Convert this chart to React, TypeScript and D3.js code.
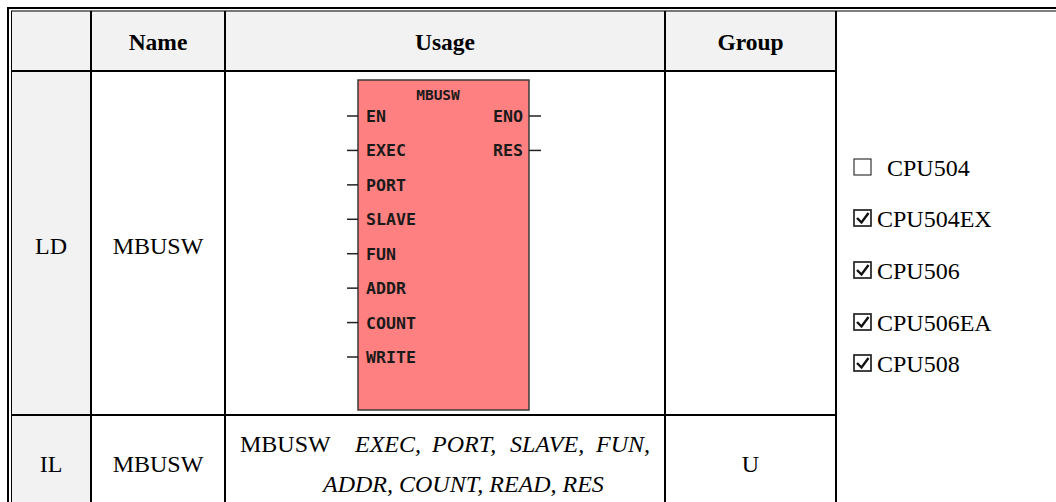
import { useEffect } from 'react';
import * as d3 from 'd3';

// table content
const headers = ['', 'Name', 'Usage', 'Group'];
const languages = ['LD', 'IL'];
const names = ['MBUSW', 'MBUSW'];
const groups = ['', 'U'];

// LD function block
const blockTitle = 'MBUSW';
const inputPins = ['EN', 'EXEC', 'PORT', 'SLAVE', 'FUN', 'ADDR', 'COUNT', 'WRITE'];
const outputPins = ['ENO', 'RES'];

// IL instruction
const ilInstruction = 'MBUSW';
const ilOperandsLine1 = ['EXEC,', 'PORT,', 'SLAVE,', 'FUN,'];
const ilOperandsLine2 = 'ADDR, COUNT, READ, RES';

// supported CPUs
const cpuModels = ['CPU504', 'CPU504EX', 'CPU506', 'CPU506EA', 'CPU508'];
const cpuSupported = [false, true, true, true, true];

// layout
const W = 1056;
const H = 502;
const colEdges = [11, 91, 225, 665, 836];
const headerBottom = 71;
const rowBottom = 415;
const rowBaselines = [254, 472];
const operandX = [355, 432, 510, 596];
const cpuBaselines = [176, 227, 279, 331, 372];
const serif = '"Liberation Serif", "Times New Roman", serif';
const mono = '"DejaVu Sans Mono", monospace';

export default function App() {
  useEffect(() => {
    document.body.style.margin = '0';
  }, []);

  const colCenter = d3.scaleOrdinal<number, number>()
    .domain(d3.range(headers.length))
    .range(d3.range(headers.length).map(i => (colEdges[i] + colEdges[i + 1]) / 2));

  const pinY = d3.scaleLinear().domain([0, inputPins.length - 1]).range([116, 357]);
  const box = { x0: 358, x1: 529, y0: 80, y1: 410 };

  return (
    <svg width={W} height={H} style={{ position: 'absolute', left: 0, top: 0, background: '#fff' }}>
      {/* fills */}
      <rect x={colEdges[0]} y={10} width={colEdges[4] - colEdges[0]} height={headerBottom - 10} fill="#f2f2f2" />
      <rect x={colEdges[0]} y={10} width={colEdges[1] - colEdges[0]} height={H - 10} fill="#f2f2f2" />

      {/* outer double border */}
      <line x1={7} x2={W} y1={8} y2={8} stroke="#000" strokeWidth={2} />
      <line x1={11} x2={W} y1={11} y2={11} stroke="#000" strokeWidth={1} />
      <line x1={8} x2={8} y1={7} y2={H} stroke="#000" strokeWidth={2} />
      <line x1={11.5} x2={11.5} y1={11} y2={H} stroke="#000" strokeWidth={1} />

      {/* grid */}
      <line x1={11} x2={colEdges[4]} y1={headerBottom} y2={headerBottom} stroke="#000" strokeWidth={2} />
      <line x1={11} x2={colEdges[4]} y1={rowBottom} y2={rowBottom} stroke="#000" strokeWidth={2} />
      {colEdges.slice(1).map((x, i) => (
        <line key={i} x1={x} x2={x} y1={11} y2={H} stroke="#000" strokeWidth={2} />
      ))}

      {/* headers */}
      {headers.map((h, i) => (
        <text key={i} x={colCenter(i)} y={50} textAnchor="middle" fontFamily={serif}
          fontWeight="bold" fontSize={23.5} fill="#000">{h}</text>
      ))}

      {/* row labels */}
      {languages.map((l, i) => (
        <g key={i} fontFamily={serif} fontSize={24} fill="#000" textAnchor="middle">
          <text x={colCenter(0)} y={rowBaselines[i]}>{l}</text>
          <text x={colCenter(1)} y={rowBaselines[i]}>{names[i]}</text>
          <text x={colCenter(3)} y={rowBaselines[i]}>{groups[i]}</text>
        </g>
      ))}

      {/* LD function block */}
      <rect x={box.x0} y={box.y0} width={box.x1 - box.x0} height={box.y1 - box.y0}
        fill="#ff8080" stroke="#3a3a3a" strokeWidth={1.5} />
      <text x={438} y={100} textAnchor="middle" fontFamily={mono} fontWeight="bold" fontSize={14.5} fill="#1a1a1a">{blockTitle}</text>
      {inputPins.map((p, i) => (
        <g key={p}>
          <line x1={347} x2={box.x0} y1={pinY(i)} y2={pinY(i)} stroke="#222" strokeWidth={1.5} />
          <text x={366} y={pinY(i) + 6} fontFamily={mono} fontWeight="bold" fontSize={16.6} fill="#1a1a1a">{p}</text>
        </g>
      ))}
      {outputPins.map((p, i) => (
        <g key={p}>
          <line x1={box.x1} x2={541} y1={pinY(i)} y2={pinY(i)} stroke="#222" strokeWidth={1.5} />
          <text x={523} y={pinY(i) + 6} textAnchor="end" fontFamily={mono} fontWeight="bold" fontSize={16.6} fill="#1a1a1a">{p}</text>
        </g>
      ))}

      {/* IL usage */}
      <g fontFamily={serif} fontSize={24} fill="#000">
        <text x={240} y={452}>{ilInstruction}</text>
        {ilOperandsLine1.map((op, i) => (
          <text key={op} x={operandX[i]} y={452} fontStyle="italic">{op}</text>
        ))}
        <text x={323} y={492} fontStyle="italic">{ilOperandsLine2}</text>
      </g>

      {/* supported CPUs */}
      {cpuModels.map((m, i) => {
        const b = cpuBaselines[i];
        return (
          <g key={m}>
            <rect x={854} y={b - 17} width={17} height={16} fill="none" stroke="#222"
              strokeWidth={cpuSupported[i] ? 1.7 : 1.1} />
            {cpuSupported[i] && (
              <path d={`M857,${b - 9} L861.5,${b - 4.5} L868.5,${b - 14}`} fill="none" stroke="#111" strokeWidth={2.4} />
            )}
            <text x={cpuSupported[i] ? 877 : 887} y={b} fontFamily={serif} fontSize={24} fill="#000">{m}</text>
          </g>
        );
      })}
    </svg>
  );
}
